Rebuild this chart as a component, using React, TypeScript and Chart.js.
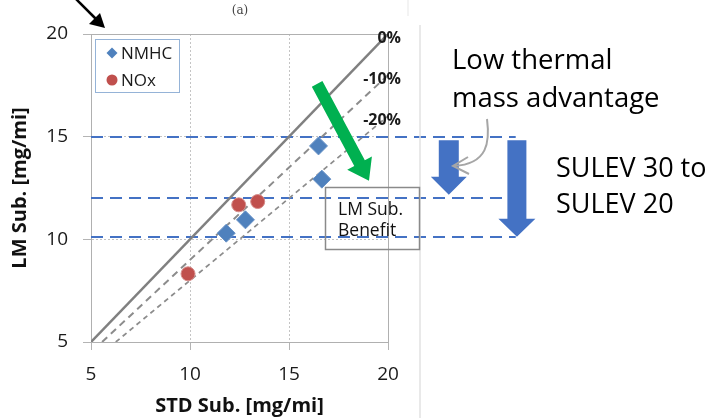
import React, { useEffect, useRef } from 'react';
import { Chart, registerables } from 'chart.js';

Chart.register(...registerables);

// ---- data ----
const nmhcX = [11.83, 12.8, 16.49, 16.66];
const nmhcY = [10.3, 10.95, 14.55, 12.93];
const noxX = [9.9, 12.46, 13.42];
const noxY = [8.32, 11.68, 11.84];

const refLabels = ['0%', '-10%', '-20%'];
const refStartX = [5, 5.56, 6.25];
const refStartY = [5, 5, 5];
const refEndX = [20, 20, 20];
const refEndY = [20, 18, 16];

const sulevLevels = [15, 12, 10.1];
const axisTicks = [5, 10, 15, 20];

const FONT = '"Open Sans", "Noto Sans", sans-serif';

const annotPlugin = {
  id: 'annot',
  beforeDatasetsDraw(chart: any) {
    const { ctx, scales, chartArea } = chart;
    const xs = scales.x, ys = scales.y;
    ctx.save();
    // frame
    ctx.strokeStyle = '#b0b0b0';
    ctx.lineWidth = 1;
    ctx.setLineDash([]);
    ctx.strokeRect(Math.round(chartArea.left) + 0.5, Math.round(chartArea.top) + 0.5,
      Math.round(chartArea.right - chartArea.left), Math.round(chartArea.bottom - chartArea.top));
    // SULEV guide lines
    ctx.strokeStyle = '#4472c4';
    ctx.lineWidth = 2;
    ctx.setLineDash([12, 7]);
    for (const lv of sulevLevels) {
      const py = Math.round(ys.getPixelForValue(lv));
      ctx.beginPath();
      ctx.moveTo(xs.getPixelForValue(5), py);
      ctx.lineTo(xs.getPixelForValue(26.45), py);
      ctx.stroke();
    }
    ctx.restore();
  },
  afterDraw(chart: any) {
    const { ctx, scales } = chart;
    const xs = scales.x, ys = scales.y;
    const px = (v: number) => xs.getPixelForValue(v);
    const py = (v: number) => ys.getPixelForValue(v);
    ctx.save();
    ctx.setLineDash([]);

    // faint image borders
    ctx.strokeStyle = '#e2e2e2';
    ctx.lineWidth = 1.5;
    ctx.beginPath(); ctx.moveTo(420, 25); ctx.lineTo(420, 418); ctx.stroke();
    ctx.strokeStyle = '#efefef';
    ctx.beginPath(); ctx.moveTo(408, 0); ctx.lineTo(408, 16); ctx.stroke();

    // (a)
    ctx.fillStyle = '#444';
    ctx.font = '12px "DejaVu Serif", serif';
    ctx.textAlign = 'center';
    ctx.textBaseline = 'middle';
    ctx.fillText('(a)', 240, 11);

    // percentage labels
    ctx.font = 'bold 16px ' + FONT;
    ctx.fillStyle = '#1a1a1a';
    ctx.textAlign = 'right';
    ctx.textBaseline = 'middle';
    refLabels.forEach((t, i) => {
      ctx.fillText(t, px(refEndX[i]) + 13, py(refEndY[i]) + 4);
    });

    // legend
    ctx.strokeStyle = '#95b3d7';
    ctx.lineWidth = 1;
    ctx.strokeRect(95.5, 39.5, 84, 53);
    ctx.fillStyle = '#4f81bd';
    ctx.beginPath();
    ctx.moveTo(112, 47.5); ctx.lineTo(117.5, 53); ctx.lineTo(112, 58.5); ctx.lineTo(106.5, 53);
    ctx.closePath(); ctx.fill();
    ctx.fillStyle = '#c0504d';
    ctx.beginPath(); ctx.arc(112, 80, 5.5, 0, Math.PI * 2); ctx.fill();
    ctx.fillStyle = '#1a1a1a';
    ctx.font = '17px ' + FONT;
    ctx.textAlign = 'left';
    ctx.fillText('NMHC', 121, 54);
    ctx.fillText('NOx', 121, 81);

    // LM Sub. Benefit box
    ctx.strokeStyle = '#8a8a8a';
    ctx.lineWidth = 1.5;
    ctx.strokeRect(325.5, 187.5, 94, 62);
    ctx.fillStyle = '#111';
    ctx.font = '17.5px ' + FONT;
    ctx.fillText('LM Sub.', 338, 210);
    ctx.fillText('Benefit', 338, 231);

    // arrows
    const drawArrow = (x0: number, y0: number, x1: number, y1: number, shaftW: number, headW: number, headL: number, color: string) => {
      const dx = x1 - x0, dy = y1 - y0;
      const len = Math.hypot(dx, dy);
      const ux = dx / len, uy = dy / len;
      const nx = -uy, ny = ux;
      const bx = x1 - ux * headL, by = y1 - uy * headL;
      ctx.fillStyle = color;
      ctx.beginPath();
      ctx.moveTo(x0 + nx * shaftW / 2, y0 + ny * shaftW / 2);
      ctx.lineTo(bx + nx * shaftW / 2, by + ny * shaftW / 2);
      ctx.lineTo(bx + nx * headW / 2, by + ny * headW / 2);
      ctx.lineTo(x1, y1);
      ctx.lineTo(bx - nx * headW / 2, by - ny * headW / 2);
      ctx.lineTo(bx - nx * shaftW / 2, by - ny * shaftW / 2);
      ctx.lineTo(x0 - nx * shaftW / 2, y0 - ny * shaftW / 2);
      ctx.closePath();
      ctx.fill();
    };
    drawArrow(px(16.42), py(17.57), px(19.04), py(12.85), 12, 28, 20, '#00b050');
    drawArrow(px(23.07), py(14.82), px(23.07), py(12.17), 20, 36, 18, '#4472c4');
    drawArrow(px(26.51), py(14.82), px(26.51), py(10.12), 19, 37, 18, '#4472c4');

    // gray curved arrow
    ctx.strokeStyle = '#a6a6a6';
    ctx.lineWidth = 2;
    ctx.beginPath();
    ctx.moveTo(487, 119);
    ctx.bezierCurveTo(490, 142, 488, 164, 454, 166);
    ctx.stroke();
    ctx.beginPath();
    ctx.moveTo(468, 157); ctx.lineTo(453, 166); ctx.lineTo(469, 174);
    ctx.stroke();

    // right side texts
    ctx.fillStyle = '#000';
    ctx.textAlign = 'left';
    ctx.textBaseline = 'alphabetic';
    ctx.font = '27.5px ' + FONT;
    ctx.fillText('Low thermal', 452, 69);
    ctx.fillText('mass advantage', 452, 107);
    ctx.font = '27px ' + FONT;
    ctx.fillText('SULEV 30 to', 556, 177);
    ctx.fillText('SULEV 20', 556, 213);

    // black pointer arrow top-left
    ctx.strokeStyle = '#000';
    ctx.lineWidth = 2.5;
    ctx.beginPath(); ctx.moveTo(72, -5); ctx.lineTo(97, 20); ctx.stroke();
    ctx.fillStyle = '#000';
    ctx.beginPath();
    ctx.moveTo(105, 28); ctx.lineTo(89, 24); ctx.lineTo(100, 13); ctx.closePath(); ctx.fill();

    ctx.restore();
  },
};

export default function App() {
  const ref = useRef<HTMLCanvasElement>(null);
  useEffect(() => {
    const canvas = ref.current!;
    const refDatasets = refLabels.map((lab, i) => ({
      type: 'line' as const,
      label: lab,
      data: [{ x: refStartX[i], y: refStartY[i] }, { x: refEndX[i], y: refEndY[i] }],
      showLine: true,
      pointRadius: 0,
      borderColor: i === 0 ? '#808080' : '#8c8c8c',
      borderWidth: i === 0 ? 2.5 : i === 1 ? 2 : 1.75,
      borderDash: i === 0 ? [] : i === 1 ? [7, 5] : [5, 4],
      fill: false,
    }));
    const chart = new Chart(canvas, {
      type: 'scatter',
      data: {
        datasets: [
          {
            label: 'NMHC',
            data: nmhcX.map((x, i) => ({ x, y: nmhcY[i] })),
            pointStyle: 'rectRot',
            pointRadius: 9,
            backgroundColor: '#4f81bd',
            borderColor: '#6a93c7',
            borderWidth: 1,
          },
          {
            label: 'NOx',
            data: noxX.map((x, i) => ({ x, y: noxY[i] })),
            pointStyle: 'circle',
            pointRadius: 7,
            backgroundColor: '#c0504d',
            borderColor: '#d58a88',
            borderWidth: 1,
          },
          ...refDatasets,
        ] as any,
      },
      options: {
        animation: false,
        responsive: false,
        devicePixelRatio: 1,
        layout: { padding: { left: 0, top: 34, right: 328, bottom: 0 } },
        plugins: { legend: { display: false }, tooltip: { enabled: false } },
        scales: {
          x: {
            type: 'linear',
            min: 5,
            max: 20,
            afterFit: (s: any) => { s.height = 76; },
            afterBuildTicks: (s: any) => { s.ticks = axisTicks.map((v) => ({ value: v })); },
            ticks: { font: { family: FONT, size: 19 }, color: '#1a1a1a', padding: 13 },
            grid: { color: '#c4c4c4', tickLength: 8, tickColor: '#b4b4b4', tickBorderDash: [] },
            border: { color: '#b0b0b0', dash: [2, 2] },
            title: {
              display: true,
              text: 'STD Sub. [mg/mi]',
              font: { family: FONT, size: 20, weight: 'bold' },
              color: '#111',
              padding: { top: 0, bottom: 0 },
            },
          },
          y: {
            type: 'linear',
            min: 5,
            max: 20,
            afterFit: (s: any) => { s.width = 91; },
            afterBuildTicks: (s: any) => { s.ticks = axisTicks.map((v) => ({ value: v })); },
            ticks: { font: { family: FONT, size: 19 }, color: '#1a1a1a', padding: 15 },
            grid: { color: '#c4c4c4', tickLength: 8, tickColor: '#b4b4b4', tickBorderDash: [] },
            border: { color: '#b0b0b0', dash: [2, 2] },
            title: {
              display: true,
              text: 'LM Sub. [mg/mi]',
              font: { family: FONT, size: 20, weight: 'bold' },
              color: '#111',
              padding: { top: 8, bottom: 0 },
            },
          },
        },
      } as any,
      plugins: [annotPlugin],
    });
    return () => chart.destroy();
  }, []);
  return (
    <div style={{ position: 'absolute', left: 0, top: 0, width: 716, height: 418, background: '#fff' }}>
      <canvas ref={ref} width={716} height={418} style={{ width: 716, height: 418, display: 'block' }} />
    </div>
  );
}
